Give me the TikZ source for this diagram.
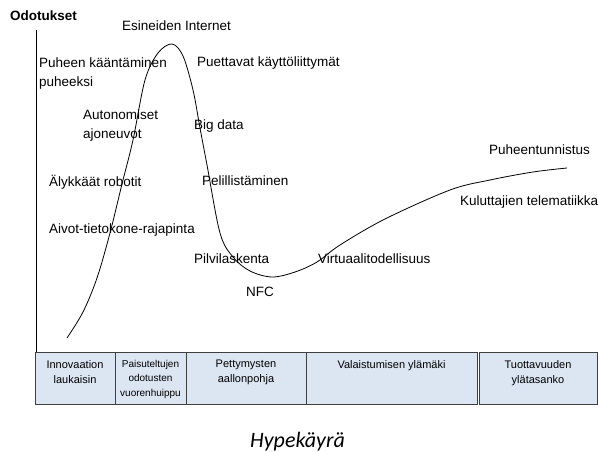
\documentclass[tikz,border=0pt]{standalone}
\usepackage{fontspec}
\setmainfont{Liberation Sans}
\newfontfamily\capfont{Carlito}
\usepackage{tikz}
\usetikzlibrary{positioning}
\definecolor{phasefill}{HTML}{DCE6F2}
\definecolor{phaseline}{HTML}{3F3F3F}
\begin{document}
\begin{tikzpicture}[x=1pt,y=-1pt]
\tikzstyle{lbl}=[anchor=west,inner sep=0pt,align=left,font=\fontsize{13.5}{19}\selectfont]
\tikzstyle{phase}=[draw=phaseline,fill=phasefill,line width=0.9pt,minimum height=52pt,outer sep=0pt,inner sep=0pt]
\tikzstyle{ptxt}=[inner sep=0pt,align=center,font=\fontsize{11}{15}\selectfont]
\useasboundingbox (0,0) rectangle (598,452);
% akseli ja otsikko
\node[lbl,font=\fontsize{13.5}{16}\selectfont\bfseries] (odo) at (10,16) {Odotukset};
\coordinate (axtop) at (36.7,30);
% vaiheet
\node[phase,minimum width=80pt,anchor=north west] (b1) at (35,352) {};
\node[phase,minimum width=71pt,right=0pt of b1] (b2) {};
\node[phase,minimum width=120pt,right=0pt of b2] (b3) {};
\node[phase,minimum width=171pt,right=0pt of b3] (b4) {};
\node[phase,minimum width=118pt,right=2pt of b4] (b5) {};
\node[ptxt,below=8pt of b1.north] (t1) {Innovaation\\laukaisin};
\node[ptxt,font=\fontsize{10}{14.5}\selectfont,below=8pt of b2.north] (t2) {Paisuteltujen\\odotusten\\vuorenhuippu};
\node[ptxt,below=8pt of b3.north] (t3) {Pettymysten\\aallonpohja};
\node[ptxt,below=8pt of b4.north] (t4) {Valaistumisen ylämäki};
\node[ptxt,below=8pt of b5.north] (t5) {Tuottavuuden\\ylätasanko};
\draw[line width=0.9pt] (axtop) -- (axtop |- b1.north);
% hypekayra
\draw[line width=0.8pt] plot[smooth,tension=0.55] coordinates {(67,338) (83,312) (97,278) (110,233) (122,184) (133,140) (145,80) (158,53) (172,44) (183,56) (193,90) (200,128) (207,165) (220,233) (233,257) (250,271) (272,277) (295,272) (317,262) (340,245) (385,219) (450,190) (490,180) (533,172) (567,168)};
% teknologiat
\node[lbl] (iot) at (122,26) {Esineiden Internet};
\node[lbl] (puhe) at (39,74) {Puheen kääntäminen\\puheeksi};
\node[lbl] (puet) at (197,63) {Puettavat käyttöliittymät};
\node[lbl] (auto) at (83,126) {Autonomiset\\ajoneuvot};
\node[lbl] (big) at (194,126) {Big data};
\node[lbl] (robo) at (49,182) {Älykkäät robotit};
\node[lbl] (peli) at (202,181) {Pelillistäminen};
\node[lbl] (aivot) at (49,230) {Aivot-tietokone-rajapinta};
\node[lbl] (pilvi) at (194,259) {Pilvilaskenta};
\node[lbl] (virt) at (318,259) {Virtuaalitodellisuus};
\node[lbl] (nfc) at (246,292) {NFC};
\node[lbl] (tunn) at (489,150) {Puheentunnistus};
\node[lbl] (tele) at (460,202) {Kuluttajien telematiikka};
\node[anchor=base west,inner sep=0pt,font=\capfont\itshape\fontsize{22}{26}\selectfont] (cap) at (250,447) {Hypekäyrä};
\end{tikzpicture}
\end{document}
